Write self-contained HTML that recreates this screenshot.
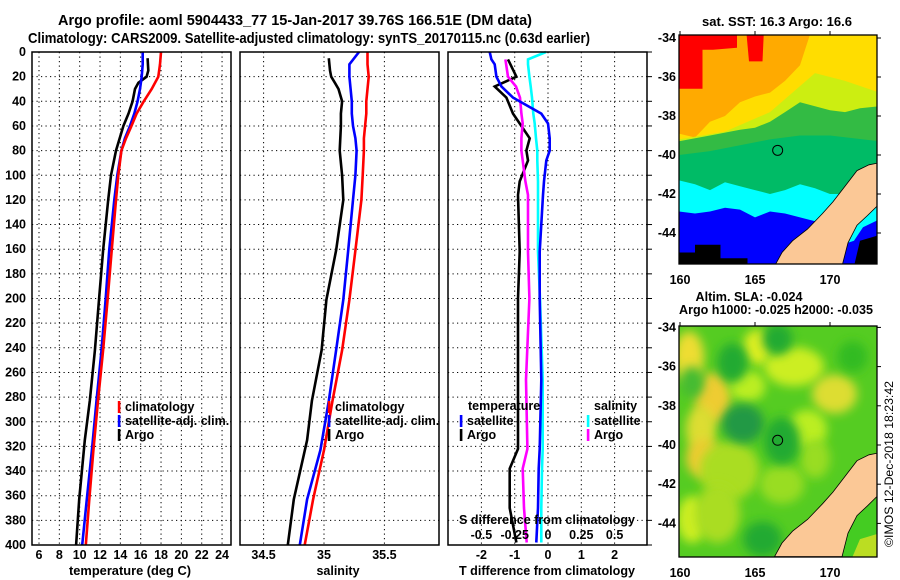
<!DOCTYPE html>
<html><head><meta charset="utf-8"><title>Argo profile</title>
<style>
html,body{margin:0;padding:0;background:#fff;}
svg{display:block;font-family:"Liberation Sans",sans-serif;font-weight:bold;}
</style></head>
<body>
<svg id="fig" xmlns="http://www.w3.org/2000/svg" width="900" height="580" viewBox="0 0 900 580">
<rect x="0" y="0" width="900" height="580" fill="#fff"/>
<text x="58" y="25" font-size="15" textLength="474" lengthAdjust="spacingAndGlyphs">Argo profile: aoml 5904433_77 15-Jan-2017 39.76S 166.51E (DM data)</text>
<text x="28" y="43" font-size="15" textLength="562" lengthAdjust="spacingAndGlyphs">Climatology: CARS2009. Satellite-adjusted climatology: synTS_20170115.nc (0.63d earlier)</text>
<g id="maps"></g>
<g id="plots"></g>
</svg>
<script>
// ---- profile data ----
const depthTicks = [0,20,40,60,80,100,120,140,160,180,200,220,240,260,280,300,320,340,360,380,400];
const tempTicks = [6,8,10,12,14,16,18,20,22,24];
const salTicks = [34.5,35,35.5];
const salTickLabels = ["34.5","35","35.5"];
const dTTicks = [-2,-1,0,1,2];
const dSTicks = [-0.5,-0.25,0,0.25,0.5];
const dSTickLabels = ["-0.5","-0.25","0","0.25","0.5"];

const climDepth = [0,10,20,30,40,50,60,70,80,100,120,161,201,242,283,323,363,400];
const tempClim = [18.0,17.9,17.73,17.08,16.3,15.6,15.1,14.55,14.1,13.8,13.57,13.15,12.75,12.3,11.8,11.35,10.95,10.6];
const tempSat = [16.2,16.2,16.1,15.93,15.7,15.37,14.95,14.45,14.1,13.7,13.4,12.9,12.55,12.15,11.65,11.2,10.7,10.25];
const salClim = [35.36,35.36,35.37,35.36,35.35,35.35,35.34,35.33,35.33,35.32,35.31,35.26,35.21,35.15,35.07,35.0,34.91,34.84];
const salSat = [35.29,35.21,35.21,35.22,35.23,35.23,35.24,35.26,35.27,35.26,35.24,35.2,35.16,35.1,35.04,34.97,34.86,34.8];

const argoDepth = [5,15,20,25,30,40,50,60,80,100,120,161,201,242,283,315,363,400];
const tempArgo = [16.68,16.75,16.58,15.77,15.44,15.2,14.8,14.3,13.57,13.08,12.8,12.3,11.9,11.5,11.0,10.5,9.95,9.65];
const salArgo = [35.04,35.05,35.06,35.09,35.12,35.15,35.14,35.14,35.13,35.15,35.16,35.1,35.02,34.98,34.9,34.86,34.75,34.7];

const satDiffDepth = [0,6,10,20,28,37,50,58,70,80,88,105,116,162,200,266,322,338,370,398];
const dTSat = [-1.75,-1.7,-1.6,-1.55,-1.4,-1.05,-0.2,0,0.05,0.05,-0.05,-0.12,-0.15,-0.25,-0.25,-0.2,-0.25,-0.28,-0.3,-0.35];
const dSSat = [-0.015,-0.15,-0.15,-0.14,-0.13,-0.12,-0.11,-0.1,-0.09,-0.08,-0.08,-0.075,-0.075,-0.075,-0.06,-0.04,-0.04,-0.045,-0.05,-0.05];
const argoDiffDepth = [6,20,28,37,50,58,70,80,88,105,116,162,200,266,322,338,370,398];
const dTArgo = [-1.2,-0.95,-1.6,-1.25,-1.05,-0.85,-0.55,-0.65,-0.6,-0.85,-0.9,-0.85,-0.9,-0.9,-0.9,-1.15,-1.15,-0.95];
const dSArgo = [-0.32,-0.3,-0.24,-0.21,-0.2,-0.19,-0.2,-0.2,-0.19,-0.17,-0.15,-0.15,-0.14,-0.165,-0.155,-0.19,-0.18,-0.16];

const latTicks = [34,36,38,40,42,44];
const lonTicks = [160,165,170];

const NS = "http://www.w3.org/2000/svg";
function mk(parent, tag, name, attrs, inter) {
  const el = document.createElementNS(NS, tag);
  for (const k in attrs) el.setAttribute(k, attrs[k]);
  
  
  parent.appendChild(el);
  return el;
}
function txt(parent, name, x, y, s, size, anchor, extra) {
  const a = {x:x, y:y, 'font-size':size||12, 'text-anchor':anchor||'middle', 'dominant-baseline':'central'};
  if (extra) for (const k in extra) a[k] = extra[k];
  const t = mk(parent, 'text', name, a, false);
  t.textContent = s;
  return t;
}

// ---- axes ----
const Y0 = 52, Y1 = 545;
const yD = d => Y0 + d * 1.2325;
const xT = t => 39 + (t - 6) * 10.17;
const xS = s => 324 + (s - 35) * 120.8;
const xDT = d => 548 + d * 33.3;
const xDS = s => 548 + s * 133.2;

const plots = document.getElementById('plots');
const panels = [
  {name:'temperature-panel', x0:32, x1:231},
  {name:'salinity-panel', x0:240, x1:439},
  {name:'difference-panel', x0:448, x1:647}
];
const gridX = [tempTicks.map(xT), salTicks.map(xS), dTTicks.map(xDT)];

panels.forEach((p, i) => {
  const g = mk(plots, 'g', p.name, {}, false);
  depthTicks.forEach(d => {
    if (d === 0 || d === 400) return;
    mk(g, 'line', 'depth-gridline', {x1:p.x0, x2:p.x1, y1:yD(d), y2:yD(d), stroke:'#000', 'stroke-width':1, 'stroke-dasharray':'1.2 3.3'}, false);
  });
  gridX[i].forEach(x => {
    mk(g, 'line', 'x-gridline', {x1:x, x2:x, y1:Y0, y2:Y1, stroke:'#000', 'stroke-width':1, 'stroke-dasharray':'1.2 3.3'}, false);
  });
  p.g = g;
});

function series(g, name, xs, ds, xf, color) {
  const pts = xs.map((v, k) => xf(v).toFixed(1) + ',' + yD(ds[k]).toFixed(1)).join(' ');
  mk(g, 'polyline', name, {points:pts, fill:'none', stroke:color, 'stroke-width':2.6, 'stroke-linejoin':'miter'}, false);
}
// temperature
series(panels[0].g, 'temp-argo-line', tempArgo, argoDepth, xT, '#000');
series(panels[0].g, 'temp-satellite-line', tempSat, climDepth, xT, '#0000ff');
series(panels[0].g, 'temp-climatology-line', tempClim, climDepth, xT, '#ff0000');
// salinity
series(panels[1].g, 'sal-argo-line', salArgo, argoDepth, xS, '#000');
series(panels[1].g, 'sal-satellite-line', salSat, climDepth, xS, '#0000ff');
series(panels[1].g, 'sal-climatology-line', salClim, climDepth, xS, '#ff0000');
// differences
series(panels[2].g, 'dT-argo-line', dTArgo, argoDiffDepth, xDT, '#000');
series(panels[2].g, 'dS-argo-line', dSArgo, argoDiffDepth, xDS, '#ff00ff');
series(panels[2].g, 'dS-satellite-line', dSSat, satDiffDepth, xDS, '#00ffff');
series(panels[2].g, 'dT-satellite-line', dTSat, satDiffDepth, xDT, '#0000ff');

panels.forEach(p => {
  mk(p.g, 'rect', 'plot-frame', {x:p.x0, y:Y0, width:p.x1-p.x0, height:Y1-Y0, fill:'none', stroke:'#000', 'stroke-width':1.5}, false);
});
// right ticks on difference panel
depthTicks.forEach(d => {
  mk(panels[2].g, 'line', 'depth-tick', {x1:647, x2:652, y1:yD(d), y2:yD(d), stroke:'#000', 'stroke-width':1}, false);
});

// labels
depthTicks.forEach(d => txt(plots, 'depth-tick-label', 26, yD(d), String(d), 12.5, 'end'));
tempTicks.forEach(t => txt(plots, 'temp-tick-label', xT(t), 555, String(t), 12.5));
salTicks.forEach((s, k) => txt(plots, 'sal-tick-label', xS(s), 555, salTickLabels[k], 12.5));
dTTicks.forEach(t => txt(plots, 'dT-tick-label', xDT(t), 555, String(t), 12.5));
dSTicks.forEach((s, k) => txt(plots, 'dS-tick-label', xDS(s), 535, dSTickLabels[k], 12.5));
txt(plots, 'temp-axis-title', 130, 571, 'temperature (deg C)', 12.5, 'middle', {textLength:122, lengthAdjust:'spacingAndGlyphs'});
txt(plots, 'sal-axis-title', 338, 571, 'salinity', 12.5);
txt(plots, 'dT-axis-title', 547, 571, 'T difference from climatology', 12.5, 'middle', {textLength:176, lengthAdjust:'spacingAndGlyphs'});
txt(plots, 'dS-axis-title', 547, 520, 'S difference from climatology', 12.5, 'middle', {textLength:176, lengthAdjust:'spacingAndGlyphs'});

function legendEntry(x, y, color, label, name) {
  const g = mk(plots, 'g', name, {}, false);
  mk(g, 'rect', 'legend-swatch', {x:x-1.2, y:y-6, width:2.6, height:12, fill:color}, false);
  txt(g, 'legend-label', x + 6, y, label, 12.5, 'start');
}
legendEntry(119, 407, '#ff0000', 'climatology', 'legend-temp-climatology');
legendEntry(119, 421, '#0000ff', 'satellite-adj. clim.', 'legend-temp-satellite');
legendEntry(119, 435, '#000', 'Argo', 'legend-temp-argo');
legendEntry(329, 407, '#ff0000', 'climatology', 'legend-sal-climatology');
legendEntry(329, 421, '#0000ff', 'satellite-adj. clim.', 'legend-sal-satellite');
legendEntry(329, 435, '#000', 'Argo', 'legend-sal-argo');
txt(plots, 'legend-temperature-heading', 468, 406, 'temperature', 12.5, 'start');
legendEntry(461, 421, '#0000ff', 'satellite', 'legend-dT-satellite');
legendEntry(461, 435, '#000', 'Argo', 'legend-dT-argo');
txt(plots, 'legend-salinity-heading', 594, 406, 'salinity', 12.5, 'start');
legendEntry(588, 421, '#00ffff', 'satellite', 'legend-dS-satellite');
legendEntry(588, 435, '#ff00ff', 'Argo', 'legend-dS-argo');

// ---- maps ----
const maps = document.getElementById('maps');
const MX0 = 679, MX1 = 877;
const mX = lon => 680 + (lon - 160) * 15.0;
function poly(g, name, pts, fill, yf, extra) {
  const a = {points: pts.map(p => mX(p[0]).toFixed(1) + ',' + yf(p[1]).toFixed(1)).join(' '), fill: fill};
  if (extra) for (const k in extra) a[k] = extra[k];
  return mk(g, 'polygon', name, a, false);
}
function below(lons, lats) {
  const pts = lons.map((l, k) => [l, lats[k]]);
  pts.push([173.3, 46], [159.9, 46]);
  return pts;
}
const landPts = [[166.3,45.7],[166.8,45],[167.5,44.4],[168.5,43.8],[169.5,43],[170.2,42.4],[171,41.6],[171.8,40.8],[172.6,40.5],[173.3,40.4],[173.3,42.5],[172.5,43.1],[171.8,43.6],[171.2,44.5],[170.8,45.7]];
const eastPts = [[173.3,42.5],[173.3,45.7],[170.8,45.7],[171.2,44.5],[171.8,43.6],[172.5,43.1]];

function mapFrame(name, top, bottom, yf, title) {
  const g = mk(maps, 'g', name, {}, false);
  const clipId = name + '-clip';
  const cp = mk(g, 'clipPath', 'map-clip', {id: clipId}, false);
  mk(cp, 'rect', 'map-clip-rect', {x:MX0, y:top, width:MX1-MX0, height:bottom-top}, false);
  const inner = mk(g, 'g', 'map-image', {'clip-path':'url(#' + clipId + ')'}, false);
  return {g, inner, top, bottom, yf};
}
function mapAxes(m) {
  mk(m.g, 'rect', 'map-frame', {x:MX0, y:m.top, width:MX1-MX0, height:m.bottom-m.top, fill:'none', stroke:'#000', 'stroke-width':1.3}, false);
  latTicks.forEach(l => {
    txt(m.g, 'lat-tick-label', 676, m.yf(l), '-' + l, 12.5, 'end');
    mk(m.g, 'line', 'lat-tick', {x1:MX1, x2:MX1+4, y1:m.yf(l), y2:m.yf(l), stroke:'#000'}, false);
  });
  lonTicks.forEach(l => {
    txt(m.g, 'lon-tick-label', mX(l), m.bottom + 16, String(l), 12.5);
    mk(m.g, 'line', 'lon-tick', {x1:mX(l), x2:mX(l), y1:m.top-4, y2:m.top, stroke:'#000'}, false);
  });
  mk(m.g, 'circle', 'argo-location-marker', {cx:mX(166.51), cy:m.yf(39.76), r:5, fill:'none', stroke:'#000', 'stroke-width':1}, false);
}

// SST map
const yTop = lat => 38 + (lat - 34) * 19.5;
const m1 = mapFrame('sst-map', 35, 264, yTop);
const I1 = m1.inner;
mk(I1, 'rect', 'sst-orange', {x:MX0, y:35, width:MX1-MX0, height:229, fill:'#ffaa00'}, false);
poly(I1, 'sst-red', [[159.9,33.5],[163.8,33.5],[163.8,34.5],[162.2,34.6],[161.5,34.6],[161.5,36.6],[159.9,36.6]], '#ff0000', yTop);
poly(I1, 'sst-red', [[164.4,33.5],[165.6,33.5],[165.5,35.2],[164.6,35.2]], '#ff0000', yTop);
poly(I1, 'sst-yellow', below([159.9,161,162,163,164,165,166,167,168,168.8,173.3],[38.9,39.1,38.3,38.0,37.3,37.0,36.8,36.2,35.4,33.5,33.5]), '#ffdd00', yTop);
poly(I1, 'sst-lime', below([159.9,163,166,167.5,169,171,173.3],[39.2,38.8,37.8,36.8,35.8,36.2,36.8]), '#ccee11', yTop);
poly(I1, 'sst-green', below([159.9,162,164,165,166,167,168,169,170,171,172,173.3],[39.3,39.0,38.7,38.6,38.3,37.8,37.3,37.5,37.7,37.8,37.6,37.5]), '#33bb44', yTop);
poly(I1, 'sst-teal', below([159.9,162,164,166,168,170,173.3],[40.0,39.8,39.5,39.2,39.0,39.0,39.3]), '#00bb66', yTop);
poly(I1, 'sst-cyan', below([159.9,161,162,163,164,165,166,167,168,169,170,173.3],[41.3,41.5,41.8,41.4,41.6,41.8,42.0,41.8,41.5,41.7,42,42]), '#00ffff', yTop);
poly(I1, 'sst-blue', below([159.9,161,162,163,164,165,166,167,168,169,173.3],[42.9,43.0,42.9,42.7,42.8,43.2,42.9,43.0,43.2,43.4,43.4]), '#0000ff', yTop);
poly(I1, 'sst-black', [[159.9,45],[161,45],[161,44.6],[162.7,44.6],[162.7,45.3],[164.5,45.3],[164.5,45.7],[159.9,45.7]], '#000', yTop);
poly(I1, 'sst-east-blue', eastPts, '#0000ff', yTop);
poly(I1, 'sst-east-cyan', [[173.3,42.5],[173.3,43.3],[172.2,43.7],[171.6,44.4],[171.2,44.5],[171.8,43.6],[172.5,43.1]], '#00ffff', yTop);
poly(I1, 'sst-east-black', [[172,44.4],[173.3,44.1],[173.3,45.7],[171.6,45.7]], '#000', yTop);
poly(I1, 'land', landPts, '#fbc896', yTop, {stroke:'#000', 'stroke-width':0.8});
mapAxes(m1);
txt(maps, 'sst-map-title', 777, 22, 'sat. SST: 16.3 Argo: 16.6', 12.5, 'middle', {textLength:150, lengthAdjust:'spacingAndGlyphs'});

// SLA map
const yBot = lat => 327.4 + (lat - 34) * 19.6;
const m2 = mapFrame('sla-map', 326, 557, yBot);
const I2 = m2.inner;
const defs = mk(I2, 'defs', 'defs', {}, false);
const flt = mk(defs, 'filter', 'blur-filter', {id:'blur', x:'-50%', y:'-50%', width:'200%', height:'200%'}, false);
mk(flt, 'feGaussianBlur', 'blur', {stdDeviation:5}, false);
mk(I2, 'rect', 'sla-base', {x:MX0, y:326, width:MX1-MX0, height:231, fill:'#55cc22'}, false);
const blobs = [
  [160.6,35.5,1.0,1.3,'#eedd33'],[162.2,37.6,1.2,1.3,'#eecc33'],[161.4,39.2,1.0,1.2,'#dddd33'],[161.6,40.7,1.2,1.0,'#eecc33'],
  [160.8,43.8,1.0,1.2,'#ccee22'],[165.2,35.0,1.0,0.9,'#ddee22'],[167.6,36.0,2.0,1.0,'#ccee22'],[170.3,37.4,1.5,1.0,'#dddd33'],
  [168.5,39.2,1.3,1.0,'#bbee22'],[163.3,41.3,2.0,1.5,'#aadd22'],[166.8,42.0,1.5,1.0,'#99dd22'],[162.5,43.5,1.5,1.5,'#aadd22'],
  [169,40.7,1.0,1.0,'#99dd22'],[164.5,37.0,1.2,0.8,'#bbee22'],
  [163.5,35.8,1.0,1.0,'#22aa33'],[164.2,38.9,1.4,1.0,'#229944'],[166.5,34.6,1.0,0.8,'#22aa33'],[166.8,39.8,1.2,1.2,'#22aa33'],
  [165.5,44.8,1.3,0.9,'#22aa33'],[171.5,35.5,1.0,0.8,'#33bb22'],[160.8,36.8,0.8,0.8,'#44bb33']
];
blobs.forEach(b => {
  mk(I2, 'ellipse', 'sla-patch', {cx:mX(b[0]), cy:yBot(b[1]), rx:b[2]*15, ry:b[3]*19.6, fill:b[4], filter:'url(#blur)'}, false);
});
poly(I2, 'sla-east', eastPts, '#44cc22', yBot);
poly(I2, 'sla-east-yellow', [[172,44.8],[173.3,44.5],[173.3,45.7],[171.5,45.7]], '#bbdd22', yBot);
poly(I2, 'land', landPts, '#fbc896', yBot, {stroke:'#000', 'stroke-width':0.8});
mapAxes(m2);
txt(maps, 'sla-map-title-1', 749, 297, 'Altim. SLA: -0.024', 12.5, 'middle', {textLength:107, lengthAdjust:'spacingAndGlyphs'});
txt(maps, 'sla-map-title-2', 776, 310, 'Argo h1000: -0.025 h2000: -0.035', 12.5, 'middle', {textLength:194, lengthAdjust:'spacingAndGlyphs'});
txt(maps, 'imos-credit', 890, 464, '\u00a9IMOS 12-Dec-2018 18:23:42', 11.5, 'middle', {transform:'rotate(-90 890 464)', 'font-weight':'normal', textLength:166, lengthAdjust:'spacingAndGlyphs'});
</script>
</body></html>
